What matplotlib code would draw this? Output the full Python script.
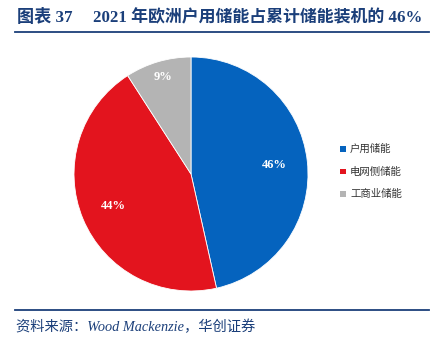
#!/usr/bin/env python3
"""
Pie chart: share of residential storage in cumulative European storage installs, 2021.
"""

import numpy as np
import matplotlib
matplotlib.use("Agg")
import matplotlib.pyplot as plt

# Data
categories = ["户用储能", "电网侧储能", "工商业储能"]
shares = [46.5, 44.4, 9.1]
colors = ["#0563BE", "#E3141E", "#B4B4B4"]

title_label = "图表 37"
title_text = "2021 年欧洲户用储能占累计储能装机的 46%"
source_text = "资料来源：Wood Mackenzie，华创证券"

NAVY = "#1B3F7A"
FONTS = ["Liberation Serif", "Noto Sans CJK SC", "DejaVu Sans"]

fig = plt.figure(figsize=(4.48, 3.42), dpi=100)
fig.patch.set_facecolor("white")

W, H = 448.0, 342.0

# Title and rules
fig.text(17 / W, 1 - 18 / H, title_label, family=FONTS, fontsize=12.3,
         fontweight="bold", color=NAVY, va="center", ha="left")
fig.text(93 / W, 1 - 18 / H, title_text, family=FONTS, fontsize=12.2,
         fontweight="bold", color=NAVY, va="center", ha="left")
fig.add_artist(plt.Line2D([15 / W, 429 / W], [1 - 32 / H, 1 - 32 / H],
                          color=NAVY, lw=1.3))
fig.add_artist(plt.Line2D([15 / W, 429 / W], [1 - 310 / H, 1 - 310 / H],
                          color=NAVY, lw=1.3))
fig.text(16 / W, 1 - 327 / H, source_text, family=FONTS, fontsize=10.3,
         style="italic", color=NAVY, va="center", ha="left")

# Pie
ax = fig.add_axes([74 / W, 1 - 291 / H, 234 / W, 234 / H])
wedges, _ = ax.pie(shares, colors=colors, startangle=90, counterclock=False,
                   radius=1.0, wedgeprops=dict(linewidth=0.6, edgecolor="white"))
ax.set_xlim(-1, 1)
ax.set_ylim(-1, 1)
ax.axis("off")

# Percent labels inside wedges
label_dist = [0.72, 0.72, 0.86]
for w, val, d in zip(wedges, shares, label_dist):
    mid = np.deg2rad((w.theta1 + w.theta2) / 2)
    ax.text(d * np.cos(mid), d * np.sin(mid), f"{int(val)}%",
            family=FONTS, fontsize=9, fontweight="bold", color="white",
            ha="center", va="center")

# Legend
leg_y = [149, 171.5, 193.5]
for cat, col, y in zip(categories, colors, leg_y):
    fig.patches.append(plt.Rectangle((339.5 / W, 1 - (y + 3) / H), 6 / W, 6 / H,
                                     transform=fig.transFigure, facecolor=col,
                                     edgecolor="none"))
    fig.text(350 / W, 1 - y / H, cat, family=FONTS, fontsize=7.5,
             color="#333333", va="center", ha="left")

fig.savefig("out.png", dpi=100, facecolor="white")
plt.close(fig)
